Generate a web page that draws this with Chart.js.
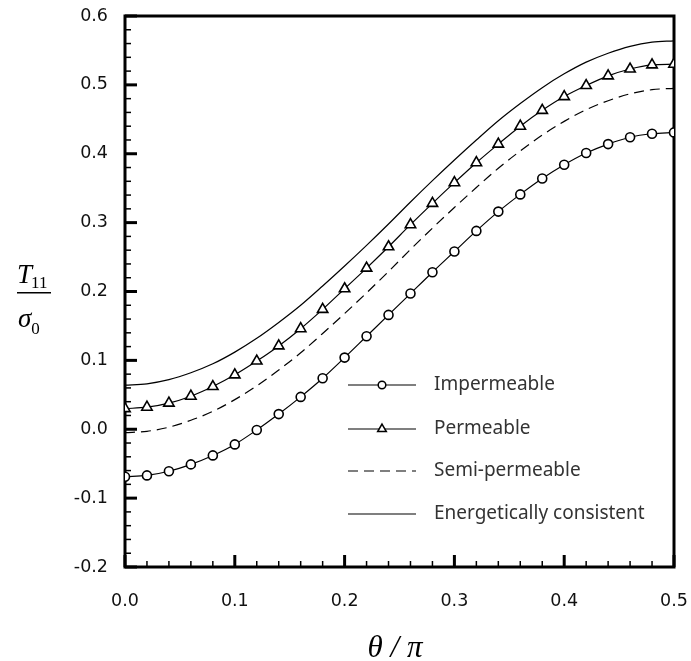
<!DOCTYPE html>
<html>
<head>
<meta charset="utf-8">
<script src="https://cdn.jsdelivr.net/npm/chart.js@4.4.1/dist/chart.umd.min.js"></script>
<style>
  html, body { margin: 0; padding: 0; background: #fff; }
  #wrap { width: 691px; height: 661px; }
</style>
</head>
<body>
<div id="wrap"><canvas id="chart" width="691" height="661"></canvas></div>
<script>
// theta / pi
const theta = [0, 0.02, 0.04, 0.06, 0.08, 0.10, 0.12, 0.14, 0.16, 0.18, 0.20, 0.22, 0.24,
               0.26, 0.28, 0.30, 0.32, 0.34, 0.36, 0.38, 0.40, 0.42, 0.44, 0.46, 0.48, 0.50];

// T11 / sigma0
const impermeable = [-0.069, -0.067, -0.061, -0.051, -0.038, -0.022, -0.001, 0.022, 0.047, 0.074,
                     0.104, 0.135, 0.166, 0.197, 0.228, 0.258, 0.288, 0.316, 0.341, 0.364,
                     0.384, 0.401, 0.414, 0.424, 0.429, 0.431];
const permeable = [0.030, 0.032, 0.038, 0.048, 0.062, 0.079, 0.099, 0.121, 0.146, 0.174,
                   0.204, 0.234, 0.265, 0.297, 0.328, 0.358, 0.387, 0.414, 0.440, 0.463,
                   0.483, 0.499, 0.513, 0.523, 0.529, 0.530];
const semiPermeable = [-0.005, -0.003, 0.003, 0.013, 0.026, 0.043, 0.063, 0.086, 0.111, 0.139,
                       0.168, 0.198, 0.229, 0.261, 0.292, 0.322, 0.351, 0.379, 0.404, 0.427,
                       0.447, 0.464, 0.477, 0.487, 0.493, 0.495];
const energetic = [0.064, 0.066, 0.072, 0.082, 0.095, 0.112, 0.132, 0.155, 0.180, 0.208,
                   0.237, 0.267, 0.298, 0.330, 0.361, 0.391, 0.420, 0.448, 0.473, 0.496,
                   0.516, 0.533, 0.546, 0.556, 0.562, 0.564];

const seriesNames = ['Impermeable', 'Permeable', 'Semi-permeable', 'Energetically consistent'];

// helper: pair theta values with a series
function toPoints(values) {
    return values.map((v, i) => ({ x: theta[i], y: v }));
}

function fmt(v) {
    if (Math.abs(v) < 1e-9) return '0.0';
    return v.toFixed(1);
}

// frame, inward ticks, legend and axis titles
const decorations = {
    id: 'decorations',
    beforeDatasetsDraw(chart) {
        const { ctx, chartArea: a, scales: { x, y } } = chart;
        ctx.save();
        ctx.strokeStyle = '#000';
        // x ticks every 0.02, major every 0.1
        for (let i = 0; i <= 25; i++) {
            const px = x.getPixelForValue(i * 0.02);
            const major = i % 5 === 0;
            ctx.lineWidth = major ? 3 : 1.5;
            ctx.beginPath();
            ctx.moveTo(px, a.bottom);
            ctx.lineTo(px, a.bottom - (major ? 12 : 6));
            ctx.stroke();
        }
        // y ticks every 0.02, major every 0.1
        for (let i = 0; i <= 40; i++) {
            const py = y.getPixelForValue(-0.2 + i * 0.02);
            const major = i % 5 === 0;
            ctx.lineWidth = major ? 3 : 1.5;
            ctx.beginPath();
            ctx.moveTo(a.left, py);
            ctx.lineTo(a.left + (major ? 12 : 6), py);
            ctx.stroke();
        }
        ctx.lineWidth = 3;
        ctx.strokeRect(a.left, a.top, a.width, a.height);
        ctx.restore();
    },
    afterDraw(chart) {
        const { ctx } = chart;
        ctx.save();
        // legend
        const rows = [385, 429, 471, 514];
        chart.data.datasets.forEach((ds, i) => {
            const ly = rows[i];
            ctx.strokeStyle = '#000';
            ctx.lineWidth = 1.2;
            ctx.setLineDash(ds.borderDash || []);
            ctx.beginPath();
            ctx.moveTo(348, ly);
            ctx.lineTo(416, ly);
            ctx.stroke();
            ctx.setLineDash([]);
            if (ds.pointRadius > 0) {
                ctx.fillStyle = '#fff';
                ctx.lineWidth = 1.5;
                Chart.helpers.drawPoint(ctx, {
                    pointStyle: ds.pointStyle,
                    radius: ds.pointStyle === 'triangle' ? 5 : 3.8,
                    borderWidth: 1.5
                }, 382, ly);
            }
            ctx.fillStyle = '#333';
            ctx.font = '19px "Noto Sans"';
            ctx.textAlign = 'left';
            ctx.textBaseline = 'middle';
            ctx.fillText(seriesNames[i], 434, ly);
        });

        // y title: T11 / sigma0
        ctx.fillStyle = '#000';
        ctx.textBaseline = 'alphabetic';
        ctx.textAlign = 'left';
        ctx.font = 'italic 27px "Liberation Serif"';
        ctx.fillText('T', 17, 283);
        const tw = ctx.measureText('T').width;
        ctx.font = '17px "Liberation Serif"';
        ctx.fillText('11', 17 + tw - 1, 288);
        ctx.fillRect(17, 292, 34, 1.5);
        ctx.font = 'italic 27px "Liberation Serif"';
        ctx.fillText('\u03c3', 18, 327);
        const sw = ctx.measureText('\u03c3').width;
        ctx.font = '17px "Liberation Serif"';
        ctx.fillText('0', 18 + sw, 334);

        // x title: theta / pi
        ctx.font = 'italic 31px "Liberation Serif"';
        ctx.textAlign = 'center';
        ctx.fillText('\u03b8 / \u03c0', 395, 657);
        ctx.restore();
    }
};

const ctx = document.getElementById('chart').getContext('2d');
const chart = new Chart(ctx, {
    type: 'line',
    data: {
        datasets: [
            {
                label: seriesNames[0],
                data: toPoints(impermeable),
                borderColor: '#000',
                borderWidth: 1.2,
                pointStyle: 'circle',
                pointRadius: 4.5,
                pointBorderWidth: 1.6,
                pointBackgroundColor: '#fff',
                pointBorderColor: '#000',
                cubicInterpolationMode: 'monotone'
            },
            {
                label: seriesNames[1],
                data: toPoints(permeable),
                borderColor: '#000',
                borderWidth: 1.2,
                pointStyle: 'triangle',
                pointRadius: 6,
                pointBorderWidth: 1.6,
                pointBackgroundColor: '#fff',
                pointBorderColor: '#000',
                cubicInterpolationMode: 'monotone'
            },
            {
                label: seriesNames[2],
                data: toPoints(semiPermeable),
                borderColor: '#000',
                borderWidth: 1.2,
                borderDash: [10, 6],
                pointRadius: 0,
                cubicInterpolationMode: 'monotone'
            },
            {
                label: seriesNames[3],
                data: toPoints(energetic),
                borderColor: '#000',
                borderWidth: 1.2,
                pointRadius: 0,
                cubicInterpolationMode: 'monotone'
            }
        ]
    },
    options: {
        responsive: false,
        animation: false,
        layout: { padding: { top: 16, right: 17, left: 0, bottom: 0 } },
        plugins: {
            legend: { display: false },
            tooltip: { enabled: false }
        },
        scales: {
            x: {
                type: 'linear',
                min: 0,
                max: 0.5,
                border: { display: false },
                grid: { display: false, drawTicks: false },
                ticks: {
                    stepSize: 0.1,
                    padding: 24,
                    color: '#111',
                    font: { family: '"DejaVu Sans"', size: 17.5 },
                    callback: v => fmt(v)
                },
                afterFit: s => {
                    s.height = 94;
                    s.paddingLeft = 0;
                    s.paddingRight = 0;
                }
            },
            y: {
                type: 'linear',
                min: -0.2,
                max: 0.6,
                border: { display: false },
                grid: { display: false, drawTicks: false },
                ticks: {
                    stepSize: 0.1,
                    padding: 17,
                    color: '#111',
                    font: { family: '"DejaVu Sans"', size: 17.5 },
                    callback: v => fmt(v)
                },
                afterFit: s => {
                    s.width = 125;
                    s.paddingTop = 0;
                    s.paddingBottom = 0;
                }
            }
        }
    },
    plugins: [decorations]
});
</script>
</body>
</html>
